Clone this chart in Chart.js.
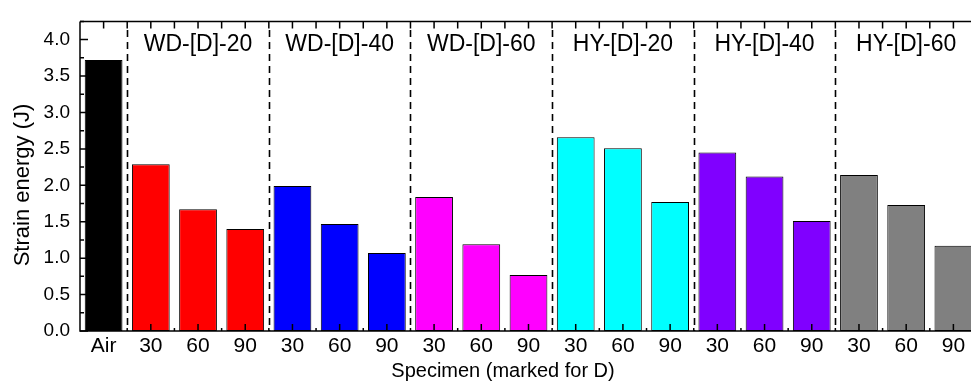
<!DOCTYPE html>
<html>
<head>
<meta charset="utf-8">
<script src="https://cdn.jsdelivr.net/npm/chart.js@4"></script>
<style>
  html, body { margin: 0; padding: 0; background: #fff; overflow: hidden; }
  #wrap { width: 977px; height: 385px; position: relative; }
</style>
</head>
<body>
<div id="wrap"><canvas id="energy-chart"></canvas></div>
<script>
  // Specimens along the x axis
  const specimens = ['Air', '30', '60', '90', '30', '60', '90', '30', '60', '90',
                     '30', '60', '90', '30', '60', '90', '30', '60', '90'];
  // Strain energy (J) of each specimen
  const strainEnergy = [3.72, 2.29, 1.67, 1.40, 1.99, 1.47, 1.07, 1.84, 1.19, 0.77,
                        2.66, 2.51, 1.77, 2.45, 2.12, 1.51, 2.14, 1.73, 1.17];
  // Group names, each over its middle bar
  const groupNames = ['WD-[D]-20', 'WD-[D]-40', 'WD-[D]-60', 'HY-[D]-20', 'HY-[D]-40', 'HY-[D]-60'];
  const groupCenters = [2, 5, 8, 11, 14, 17];
  // Dashed separators between groups (category index)
  const separators = [0.5, 3.5, 6.5, 9.5, 12.5, 15.5];

  const groupColors = ['#000000', '#ff0000', '#0000ff', '#ff00ff', '#00ffff', '#8000ff', '#808080'];
  const barColors = specimens.map((s, i) => groupColors[i === 0 ? 0 : Math.floor((i - 1) / 3) + 1]);

  Chart.defaults.font.family = '"Liberation Sans", Arial, sans-serif';
  Chart.defaults.color = '#000';

  // Frame, ticks, separators and labels drawn on top of the bars
  const framePlugin = {
    id: 'frame',
    afterDatasetsDraw(chart) {
      const ctx = chart.ctx;
      const a = chart.chartArea;
      const x = chart.scales.x;
      const y = chart.scales.y;
      const step = x.getPixelForValue(1) - x.getPixelForValue(0);
      ctx.save();

      // dashed group separators
      ctx.strokeStyle = '#000';
      ctx.lineWidth = 1.6;
      ctx.setLineDash([7, 5]);
      separators.forEach(s => {
        const px = Math.round(x.getPixelForValue(0) + s * step) + 0.5;
        ctx.beginPath();
        ctx.moveTo(px, 30);
        ctx.lineTo(px, a.bottom);
        ctx.stroke();
      });
      ctx.setLineDash([]);

      // axis lines
      ctx.lineWidth = 1.5;
      ctx.beginPath();
      ctx.moveTo(a.left, a.top);
      ctx.lineTo(a.right, a.top);
      ctx.moveTo(a.left, a.top);
      ctx.lineTo(a.left, a.bottom);
      ctx.lineTo(a.right, a.bottom);
      ctx.stroke();

      // x ticks: centres long, boundaries short; top ticks on both
      ctx.beginPath();
      for (let i = 0; i < specimens.length; i++) {
        const c = x.getPixelForValue(i);
        const b = c + step / 2;
        ctx.moveTo(c, a.bottom); ctx.lineTo(c, a.bottom - 7);
        ctx.moveTo(b, a.bottom); ctx.lineTo(b, a.bottom - 3);
        ctx.moveTo(c, a.top); ctx.lineTo(c, a.top + 7);
        ctx.moveTo(b, a.top); ctx.lineTo(b, a.top + 7);
      }
      // y ticks: 0.5 major, 0.25 minor
      for (let v = 0; v <= 4.25; v += 0.25) {
        const py = y.getPixelForValue(v);
        const len = (Math.round(v * 4) % 2 === 0) ? 8 : 4;
        ctx.moveTo(a.left, py); ctx.lineTo(a.left + len, py);
      }
      ctx.stroke();

      // group names
      ctx.fillStyle = '#000';
      ctx.font = '23px "Liberation Sans", Arial, sans-serif';
      ctx.textAlign = 'center';
      ctx.textBaseline = 'middle';
      groupNames.forEach((g, k) => {
        ctx.fillText(g, x.getPixelForValue(groupCenters[k]), 45);
      });

      // axis titles
      ctx.font = '20px "Liberation Sans", Arial, sans-serif';
      ctx.fillText('Specimen (marked for D)', 503, 371);
      ctx.font = '22px "Liberation Sans", Arial, sans-serif';
      ctx.translate(23, 185);
      ctx.rotate(-Math.PI / 2);
      ctx.fillText('Strain energy (J)', 0, 0);
      ctx.restore();
    }
  };

  const energyConfig = {
    type: 'bar',
    data: {
      labels: specimens,
      datasets: [{
        label: 'Strain energy',
        data: strainEnergy,
        backgroundColor: barColors,
        borderColor: '#000',
        borderWidth: 1,
        borderSkipped: false,
        barPercentage: 0.8,
        categoryPercentage: 1.0
      }]
    },
    options: {
      responsive: true,
      maintainAspectRatio: false,
      animation: false,
      layout: { padding: { top: 11, right: 0, left: 0, bottom: 0 } },
      plugins: {
        legend: { display: false },
        tooltip: { enabled: false }
      },
      scales: {
        x: {
          grid: { display: false, drawTicks: false },
          border: { display: false },
          ticks: { font: { size: 21 }, padding: 3, maxRotation: 0, autoSkip: false },
          afterFit(scale) { scale.height = 54; }
        },
        y: {
          min: 0,
          max: 4.25,
          grid: { display: false, drawTicks: false },
          border: { display: false },
          ticks: {
            stepSize: 0.5,
            includeBounds: false,
            font: { size: 19 },
            padding: 10,
            callback: v => v.toFixed(1)
          },
          afterFit(scale) { scale.width = 80; }
        }
      }
    },
    plugins: [framePlugin]
  };

  const energyChart = new Chart(document.getElementById('energy-chart'), energyConfig);
</script>
</body>
</html>
